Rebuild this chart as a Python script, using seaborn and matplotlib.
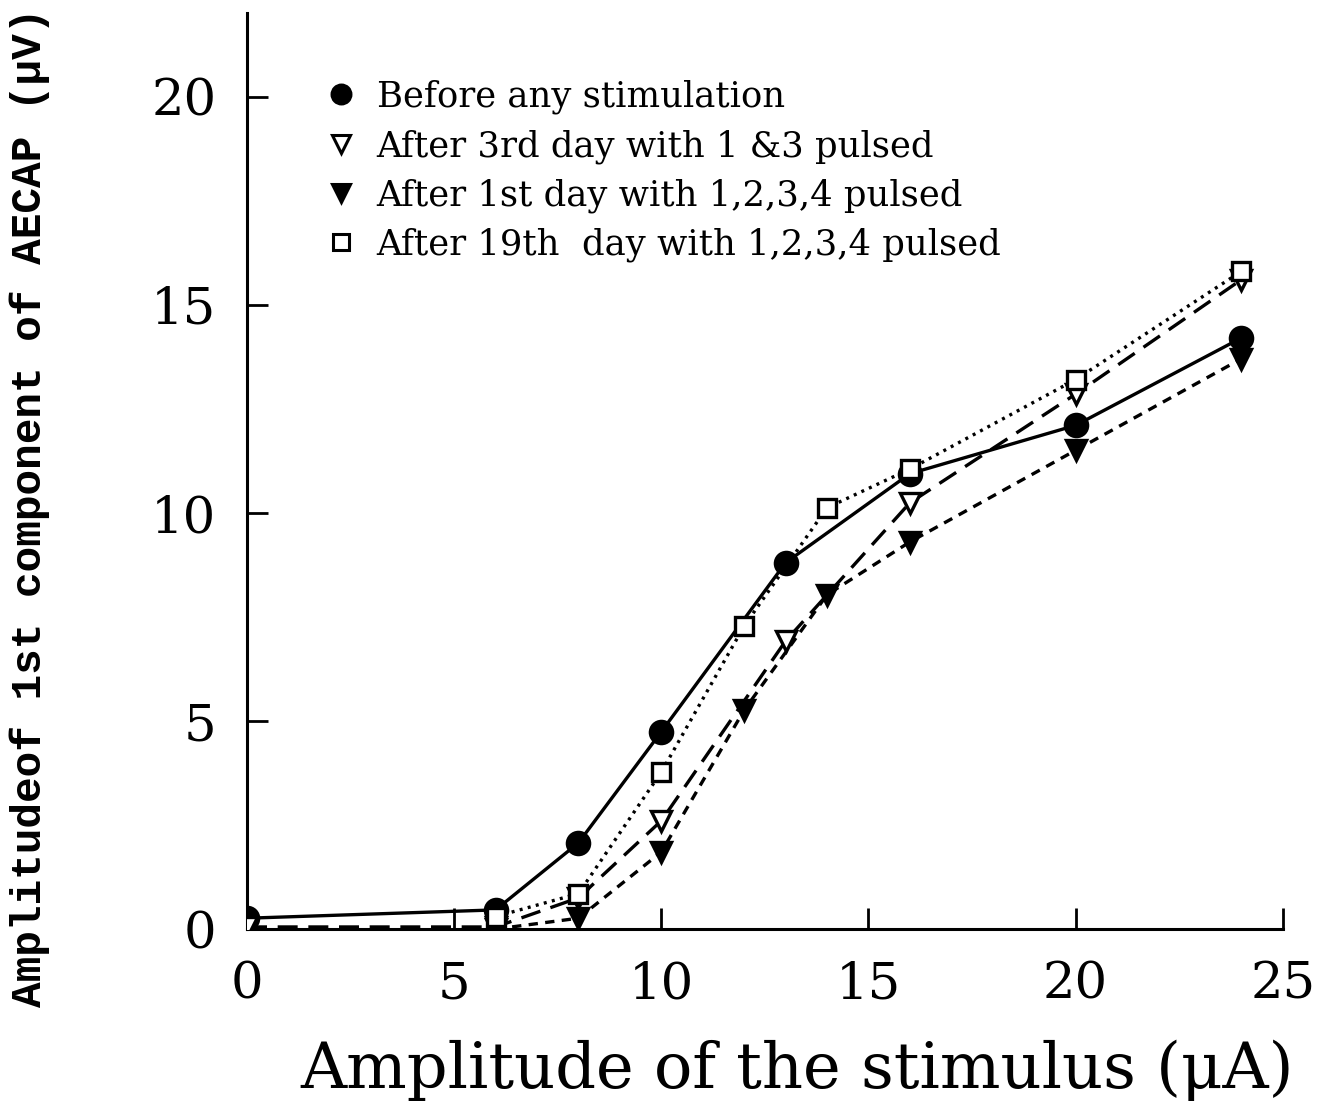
import matplotlib
matplotlib.use("Agg")
import matplotlib.pyplot as plt
import seaborn as sns
import pandas as pd
from matplotlib.lines import Line2D

sns.set_theme(style="ticks")
plt.rcParams['font.family'] = ['DejaVu Serif', 'DejaVu Sans']
for k in ["text.color", "axes.labelcolor", "xtick.color", "ytick.color", "axes.edgecolor"]:
    plt.rcParams[k] = "black"

series_names = [
    "Before any stimulation",
    "After 3rd day with 1 &3 pulsed",
    "After 1st day with 1,2,3,4 pulsed",
    "After 19th  day with 1,2,3,4 pulsed",
]

x_before = [0, 6, 8, 10, 13, 16, 20, 24]
y_before = [0.26, 0.46, 2.07, 4.74, 8.8, 10.94, 12.1, 14.2]

x_3rd = [0, 6, 8, 10, 13, 16, 20, 24]
y_3rd = [0.05, 0.05, 0.75, 2.6, 6.92, 10.24, 12.85, 15.6]

x_1st = [6, 8, 10, 12, 14, 16, 20, 24]
y_1st = [0.0, 0.26, 1.85, 5.26, 8.03, 9.3, 11.5, 13.7]

x_19th = [6, 8, 10, 12, 14, 16, 20, 24]
y_19th = [0.3, 0.85, 3.77, 7.28, 10.12, 11.05, 13.2, 15.8]

x_ticks = [0, 5, 10, 15, 20, 25]
y_ticks = [0, 5, 10, 15, 20]

frames = []
for name, xs, ys in zip(series_names,
                        [x_before, x_3rd, x_1st, x_19th],
                        [y_before, y_3rd, y_1st, y_19th]):
    frames.append(pd.DataFrame({"x": xs, "y": ys, "series": name}))
df = pd.concat(frames, ignore_index=True)

markers = {series_names[0]: "o", series_names[1]: "v",
           series_names[2]: "v", series_names[3]: "s"}
dashes = {series_names[0]: "", series_names[1]: (6, 3.2),
          series_names[2]: (2.8, 2.2), series_names[3]: (0.9, 1.6)}
facecols = {series_names[0]: "black", series_names[1]: "white",
            series_names[2]: "black", series_names[3]: "white"}
msizes = {series_names[0]: 16, series_names[1]: 15,
          series_names[2]: 15, series_names[3]: 13}

fig = plt.figure(figsize=(13.33, 11.06), dpi=100)
ax = fig.add_axes([0.1853, 0.16, 0.777, 0.828])

for name in series_names:
    sub = df[df["series"] == name]
    sns.lineplot(data=sub, x="x", y="y", ax=ax, color="black",
                 linewidth=2.4, dashes=False, legend=False,
                 marker=markers[name], markersize=msizes[name],
                 markerfacecolor=facecols[name], markeredgecolor="black",
                 markeredgewidth=2.4, zorder=3)
    line = ax.get_lines()[-1]
    if dashes[name]:
        line.set_dashes(dashes[name])

ax.set_xlim(0, 25)
ax.set_ylim(0, 22)
ax.set_xticks(x_ticks)
ax.set_yticks(y_ticks)
ax.tick_params(direction="in", length=15, width=2, labelsize=37)
ax.tick_params(axis="x", pad=22)
ax.tick_params(axis="y", pad=22)
for s in ["top", "right"]:
    ax.spines[s].set_visible(False)
for s in ["left", "bottom"]:
    ax.spines[s].set_linewidth(2.2)

ax.set_xlabel("Amplitude of the stimulus (\u03bcA)", fontsize=46)
ax.xaxis.set_label_coords(0.531, -0.121)
ax.set_ylabel("Amplitudeof 1st component of AECAP (\u03bcV)", fontsize=30.8,
              fontweight="bold", family=["Liberation Mono", "DejaVu Sans"])
ax.yaxis.set_label_coords(-0.19, 0.46)

handles = [Line2D([], [], linestyle="none", marker=markers[n],
                  markersize=msizes[n] * 0.85, markerfacecolor=facecols[n],
                  markeredgecolor="black", markeredgewidth=2.2)
           for n in series_names]
leg = ax.legend(handles, series_names, loc="upper left",
                bbox_to_anchor=(0.062, 0.943), frameon=False,
                prop={"family": "DejaVu Serif", "size": 25.5},
                handlelength=0.9, handletextpad=0.55, labelspacing=0.42,
                borderaxespad=0)

fig.savefig("out.png", dpi=100)
